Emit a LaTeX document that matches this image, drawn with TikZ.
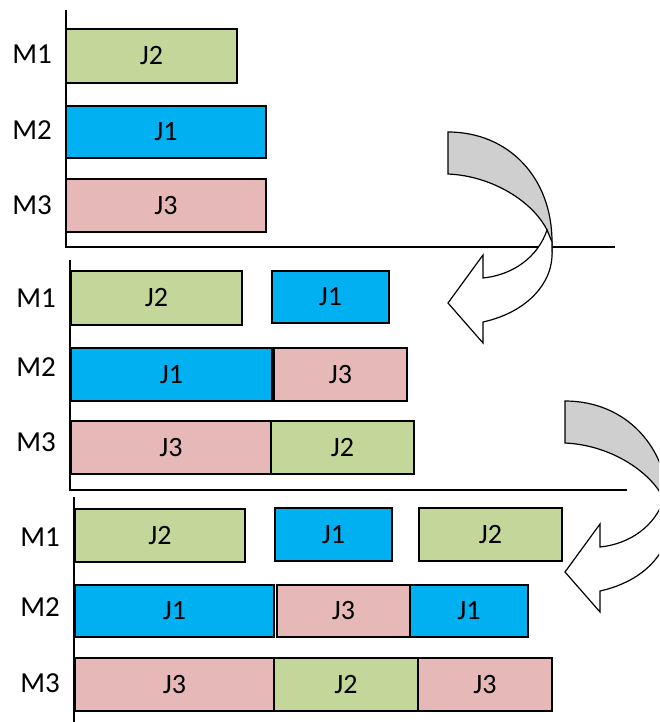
\documentclass[tikz,border=0pt]{standalone}
\usepackage{fontspec}
\setmainfont{Carlito}
\definecolor{jgreen}{HTML}{C4D79B}
\definecolor{jblue}{HTML}{00B0F0}
\definecolor{jpink}{HTML}{E6B9B8}
\definecolor{agray}{HTML}{CFCFCF}
\newcommand\jobbox[7]{\node[jb, fill=#6, minimum width={#4-#2}, minimum height={#5-#3}] (#1) at ({(#2+#4)/2},{(#3+#5)/2}) {#7};}
\newcommand\turnarrow{%
  \fill[agray, draw=black, line width=1.2pt] (0,0) .. controls (60,0) and (104,45) .. (104,110) -- (104,118) -- (99,98) .. controls (85,70) and (45,44) .. (0,42) -- cycle;
  \filldraw[fill=white, draw=black, line width=1.2pt, line join=miter] (99,98) .. controls (90,125) and (65,143) .. (35,146) -- (35,123) -- (0,171) -- (35,211) -- (35,190) .. controls (80,180) and (106,150) .. (104,118) -- (104,110) -- cycle;
}
\begin{document}
\begin{tikzpicture}[x=1pt,y=-1pt,
  jb/.style={draw=black, line width=1.5pt, inner sep=0pt, outer sep=0pt, font=\fontsize{28}{30}\selectfont},
  mlab/.style={font=\fontsize{29}{31}\selectfont, inner sep=0pt},
  axis/.style={draw=black, line width=1.3pt}]
\useasboundingbox (0,0) rectangle (659,722);
\begin{scope}
\clip (0,0) rectangle (659,722);
% axes
\coordinate (p1t) at (66,10); \coordinate (p1o) at (66,247); \coordinate (p1r) at (615,247);
\coordinate (p2t) at (70,260); \coordinate (p2o) at (70,490); \coordinate (p2r) at (627,490);
\coordinate (p3t) at (74,497); \coordinate (p3o) at (74,722);
\draw[axis] (p1t) -- (p1o) -- (p1r);
\draw[axis] (p2t) -- (p2o) -- (p2r);
\draw[axis] (p3t) -- (p3o);
% labels
\node[mlab] (l11) at (32,54) {M1};
\node[mlab] (l12) at (32,130) {M2};
\node[mlab] (l13) at (32,205) {M3};
\node[mlab] (l21) at (36,298) {M1};
\node[mlab] (l22) at (36,367) {M2};
\node[mlab] (l23) at (36,442) {M3};
\node[mlab] (l31) at (40,537) {M1};
\node[mlab] (l32) at (40,607) {M2};
\node[mlab] (l33) at (40,683) {M3};
% panel 1
\jobbox{a1}{66}{29}{237}{83}{jgreen}{J2}
\jobbox{a2}{66}{106}{266}{158}{jblue}{J1}
\jobbox{a3}{66}{179}{266}{232}{jpink}{J3}
% panel 2
\jobbox{b1}{71}{271}{242}{325}{jgreen}{J2}
\jobbox{b2}{272}{271}{389}{323}{jblue}{J1}
\jobbox{b3}{71}{348}{272}{401}{jblue}{J1}
\jobbox{b4}{274}{348}{407}{401}{jpink}{J3}
\jobbox{b5}{71}{421}{271}{474}{jpink}{J3}
\jobbox{b6}{271}{421}{414}{474}{jgreen}{J2}
% panel 3
\jobbox{c1}{75}{509}{245}{562}{jgreen}{J2}
\jobbox{c2}{275}{508}{392}{561}{jblue}{J1}
\jobbox{c3}{419}{508}{562}{561}{jgreen}{J2}
\jobbox{c4}{75}{585}{274}{637}{jblue}{J1}
\jobbox{c5}{277}{585}{410}{637}{jpink}{J3}
\jobbox{c6}{410}{585}{528}{637}{jblue}{J1}
\jobbox{c7}{75}{658}{274}{711}{jpink}{J3}
\jobbox{c8}{274}{658}{418}{711}{jgreen}{J2}
\jobbox{c9}{418}{658}{552}{711}{jpink}{J3}
% arrows
\begin{scope}[shift={(448,132)}]\turnarrow\end{scope}
\begin{scope}[shift={(565,401)}]\turnarrow\end{scope}
\end{scope}
\end{tikzpicture}
\end{document}
